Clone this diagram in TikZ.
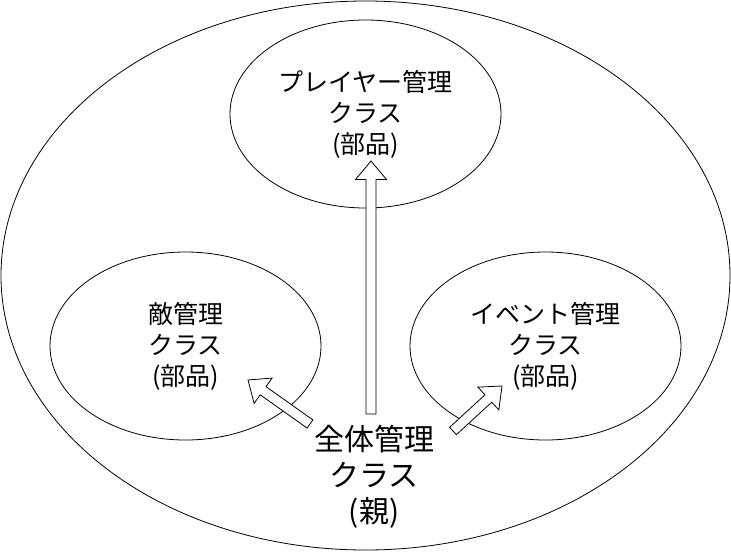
\documentclass[tikz,border=0pt]{standalone}
\usepackage{fontspec}
\setmainfont{Noto Sans CJK JP}
\usetikzlibrary{calc,shapes.geometric}
\tikzset{
  part/.style={draw, ellipse, line width=0.8pt, minimum width=271pt,
    minimum height=188pt, inner sep=0pt, align=center,
    font=\fontsize{25}{31}\selectfont},
  hollow/.style={draw, fill=white, line width=0.8pt, line join=miter}
}
% hollow block arrow from #1 to #2
\newcommand\blockarrow[2]{%
  \draw[hollow] let \p1=(#1), \p2=(#2),
      \n1={atan2(\y2-\y1,\x2-\x1)},
      \n2={veclen(\x2-\x1,\y2-\y1)-18.5pt} in
    ($(\p1)+(\n1-90:5pt)$) -- ($(\p1)+(\n1:\n2)+(\n1-90:5pt)$)
    -- ($(\p1)+(\n1:\n2)+(\n1-90:15.5pt)$) -- (\p2)
    -- ($(\p1)+(\n1:\n2)+(\n1+90:15.5pt)$)
    -- ($(\p1)+(\n1:\n2)+(\n1+90:5pt)$)
    -- ($(\p1)+(\n1+90:5pt)$) -- cycle;
}

\begin{document}
\begin{tikzpicture}[x=1pt, y=-1pt]
\useasboundingbox (0,0) rectangle (731,552);

% --- Outer ellipse ---
\draw[line width=0.8pt] (365.5,275.5) ellipse [x radius=364.5, y radius=274.5];

% --- Parts ---
\node[part] (player) at (365.5,114) {プレイヤー管理\\クラス\\(部品)};
\node[part] (enemy) at (185.5,346) {敵管理\\クラス\\(部品)};
\node[part] (event) at (545.5,346) {イベント管理\\クラス\\(部品)};

% --- Parent ---
\node[align=center, font=\fontsize{30}{36}\selectfont] (parent) at (374,477)
  {全体管理\\クラス\\(親)};

% --- Arrows ---
\coordinate (up-tail) at (371,414);
\coordinate (up-tip) at (371,161);
\coordinate (left-tail) at (310,424);
\coordinate (left-tip) at (248,380);
\coordinate (right-tail) at (453,431);
\coordinate (right-tip) at (502,386);

\blockarrow{up-tail}{up-tip}
\blockarrow{left-tail}{left-tip}
\blockarrow{right-tail}{right-tip}

\end{tikzpicture}
\end{document}
